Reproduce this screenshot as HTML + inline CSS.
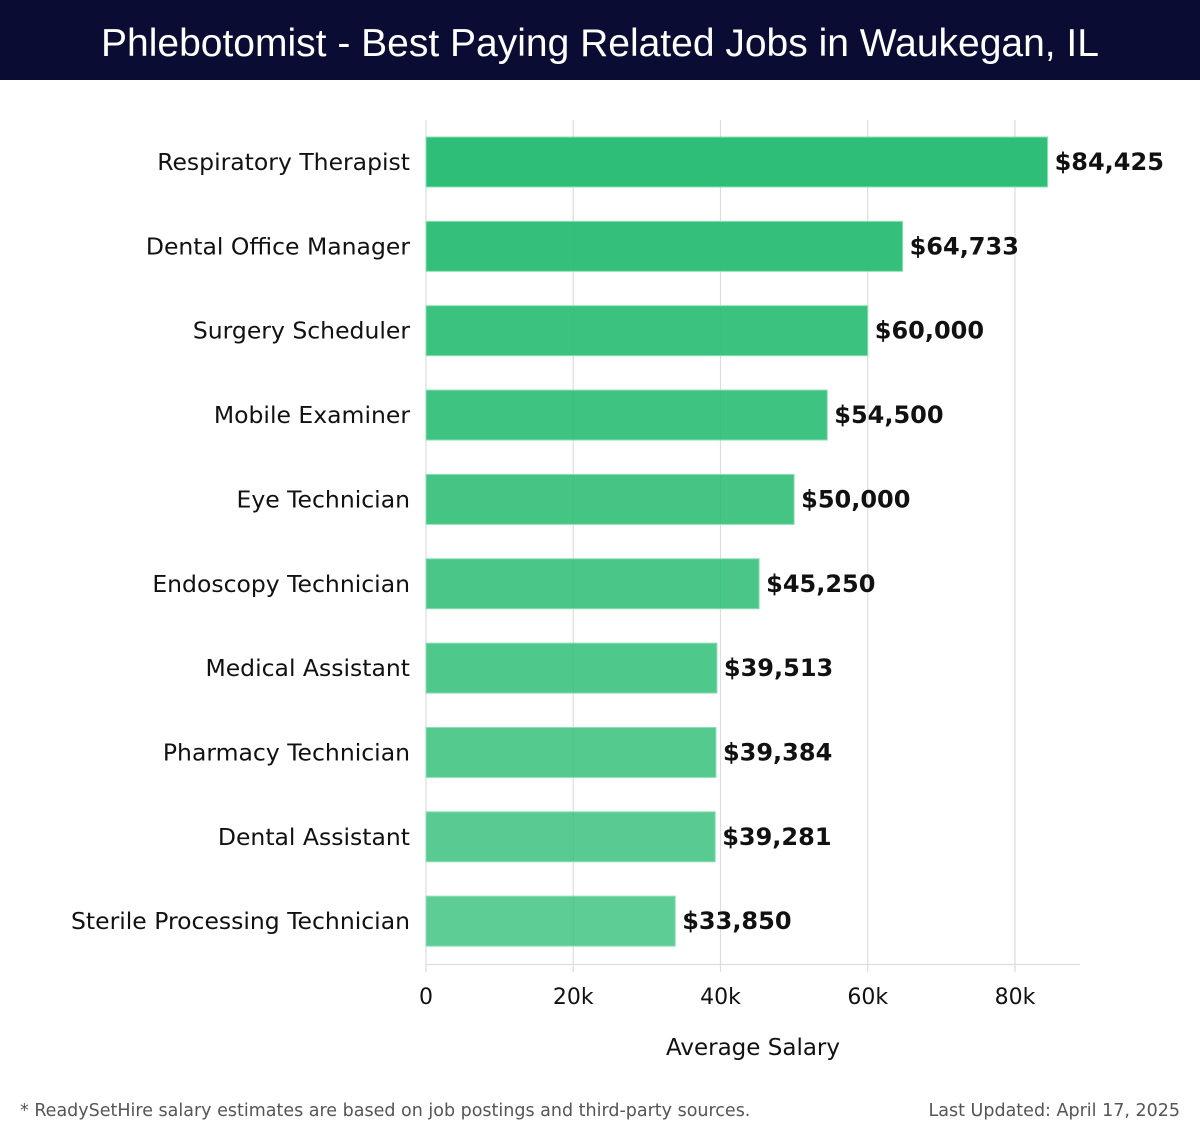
<!DOCTYPE html>
<html><head><meta charset="utf-8">
<style>
html,body{margin:0;padding:0;background:#fff;}
body{width:1200px;height:1140px;position:relative;overflow:hidden;font-family:"DejaVu Sans","Liberation Sans",sans-serif;}
#title{position:absolute;left:0;top:0;width:1200px;height:80px;background:#0b0c33;color:#fff;font-family:"Liberation Sans",sans-serif;font-size:39px;line-height:88px;text-align:center;}
#chart{position:absolute;left:0;top:0;}
.foot{position:absolute;top:1101px;font-size:17.5px;color:#555;}
</style></head><body>
<div id="title">Phlebotomist - Best Paying Related Jobs in Waukegan, IL</div>
<svg id="chart" width="1200" height="1140"></svg>
<div class="foot" style="left:20px">* ReadySetHire salary estimates are based on job postings and third-party sources.</div>
<div class="foot" style="right:20px">Last Updated: April 17, 2025</div>
<script>
const categories=["Respiratory Therapist","Dental Office Manager","Surgery Scheduler","Mobile Examiner","Eye Technician","Endoscopy Technician","Medical Assistant","Pharmacy Technician","Dental Assistant","Sterile Processing Technician"];
const salaries=[84425,64733,60000,54500,50000,45250,39513,39384,39281,33850];
const valueLabels=["$84,425","$64,733","$60,000","$54,500","$50,000","$45,250","$39,513","$39,384","$39,281","$33,850"];
const ticks=[0,20000,40000,60000,80000];
const tickLabels=["0","20k","40k","60k","80k"];

const NS="http://www.w3.org/2000/svg";
const svg=document.getElementById('chart');
const x0=426,pxPer=(1015-426)/80000;
const x=v=>x0+v*pxPer;
const yTop=120,step=84.35;
const yc=i=>162+i*step;
function mk(t,a){const e=document.createElementNS(NS,t);for(const k in a)e.setAttribute(k,a[k]);svg.appendChild(e);return e;}

ticks.forEach((t,i)=>{
  const g=mk('line',{x1:x(t),x2:x(t),y1:yTop,y2:972,stroke:'#dddddd','stroke-width':1.2});
  
  
  const l=mk('text',{x:x(t),y:1004,'text-anchor':'middle','font-size':22,fill:'#111'});
  l.textContent=tickLabels[i];
  
  
});
const ax=mk('line',{x1:x0,x2:1080,y1:964.5,y2:964.5,stroke:'#dddddd','stroke-width':1.2});



categories.forEach((c,i)=>{
  const frac=i/(categories.length-1);
  const op=0.98-frac*0.22;
  const b=mk('rect',{x:x0,y:yc(i)-25,width:x(salaries[i])-x0,height:50,fill:'#2bbd74','fill-opacity':op,stroke:'#8fe0b8','stroke-width':1});
  
  
  const cl=mk('text',{x:410,y:yc(i)+8,'text-anchor':'end','font-size':23.5,fill:'#111'});
  cl.textContent=c;
  
  
  const vl=mk('text',{x:x(salaries[i])+7,y:yc(i)+8,'font-size':24,'font-weight':'bold',fill:'#111'});
  vl.textContent=valueLabels[i];
  
  
});
const at=mk('text',{x:753,y:1055,'text-anchor':'middle','font-size':23,fill:'#111'});
at.textContent="Average Salary";


</script>
</body></html>
